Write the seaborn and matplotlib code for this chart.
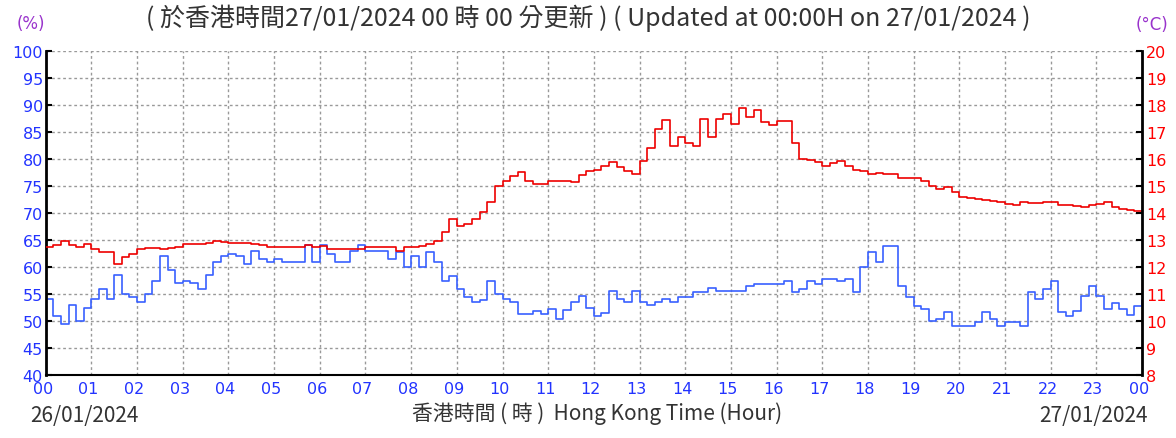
import numpy as np
import pandas as pd
import seaborn as sns
import matplotlib.pyplot as plt
from matplotlib.transforms import ScaledTranslation

# readings every 10 minutes from 00:00 26/01 to 00:00 27/01
hours = np.arange(0, 24 + 1 / 12, 1 / 6)

humidity = [
    54, 51, 49.5, 53, 50, 52.5,
    54, 56, 54, 58.5, 55, 54.5,
    53.5, 55, 57.5, 62, 59.5, 57,
    57.5, 57, 56, 58.5, 61, 62,
    62.5, 62, 60.5, 63, 61.5, 61,
    61.5, 61, 61, 61, 64, 61,
    64, 62.4, 61, 61, 63, 64,
    63, 63, 63, 61.5, 62.7, 60,
    62, 60, 62.7, 61, 57.5, 58.4,
    56, 54.5, 53.5, 53.8, 57.5, 55,
    54, 53.5, 51.3, 51.3, 51.9, 51.3,
    52.2, 50.4, 52, 53.5, 54.7, 52.5,
    51, 51.5, 55.5, 54, 53.5, 55.5,
    53.5, 53, 53.5, 54, 53.5, 54.5,
    54.5, 55.3, 55.3, 56.2, 55.6, 55.6,
    55.6, 55.5, 56.5, 56.8, 56.8, 56.8,
    56.8, 57.5, 55.3, 56, 57.5, 56.8,
    57.7, 57.7, 57.5, 57.7, 55.3, 60,
    62.7, 61, 63.8, 63.8, 56.5, 54.5,
    52.8, 52.2, 50, 50.4, 51.6, 49.1,
    49.1, 49.1, 49.8, 51.6, 50.4, 49.1,
    49.8, 49.8, 49.1, 55.3, 54, 56,
    57.5, 51.6, 51, 51.9, 54.7, 56.5,
    54.7, 52.2, 53.4, 52.2, 51.2, 52.8,
    53.8,
]

temperature = [
    12.73, 12.8, 12.98, 12.8, 12.73, 12.85,
    12.67, 12.54, 12.54, 12.1, 12.36, 12.5,
    12.67, 12.7, 12.7, 12.67, 12.7, 12.75,
    12.85, 12.85, 12.85, 12.9, 12.98, 12.91,
    12.9, 12.9, 12.9, 12.85, 12.8, 12.75,
    12.75, 12.75, 12.75, 12.75, 12.8, 12.75,
    12.77, 12.67, 12.67, 12.67, 12.67, 12.67,
    12.73, 12.73, 12.73, 12.73, 12.6, 12.73,
    12.73, 12.79, 12.85, 12.98, 13.3, 13.78,
    13.53, 13.6, 13.78, 14.05, 14.4, 15.0,
    15.2, 15.38, 15.53, 15.2, 15.07, 15.07,
    15.2, 15.2, 15.2, 15.14, 15.4, 15.56,
    15.6, 15.75, 15.88, 15.7, 15.57, 15.44,
    15.94, 16.4, 17.1, 17.45, 16.5, 16.8,
    16.6, 16.5, 17.5, 16.8, 17.5, 17.67,
    17.3, 17.88, 17.55, 17.8, 17.36, 17.25,
    17.42, 17.42, 16.6, 16.0, 15.95, 15.9,
    15.75, 15.85, 15.94, 15.75, 15.6, 15.55,
    15.45, 15.47, 15.44, 15.44, 15.28, 15.28,
    15.28, 15.2, 15.0, 14.89, 14.95, 14.77,
    14.6, 14.55, 14.52, 14.5, 14.45, 14.42,
    14.35, 14.3, 14.4, 14.38, 14.38, 14.4,
    14.4, 14.3, 14.3, 14.25, 14.21, 14.3,
    14.35, 14.4, 14.21, 14.15, 14.12, 14.09,
    14.09,
]

hour_labels = [f"{h % 24:02d}" for h in range(25)]
rh_ticks = list(range(40, 101, 5))
temp_ticks = list(range(8, 21))

title = "( 於香港時間27/01/2024 00 時 00 分更新 ) ( Updated at 00:00H on 27/01/2024 )"
x_title = "香港時間 ( 時 )  Hong Kong Time (Hour)"

sns.set_style("white")
plt.rcParams['font.family'] = ['DejaVu Sans']
cjk = ['Noto Sans CJK TC', 'DejaVu Sans']

df = pd.DataFrame({'hour': hours, 'rh': humidity, 'temp': temperature})

fig = plt.figure(figsize=(11.76, 4.39), dpi=100)
ax = fig.add_axes([0.0389, 0.1435, 0.9322, 0.738])

# relative humidity on the left axis
sns.lineplot(data=df, x='hour', y='rh', ax=ax, color='#3860FF', lw=1.2,
             drawstyle='steps-post')
ax.set_xlim(0, 24)
ax.set_ylim(40, 100)
ax.set_xticks(range(25))
ax.set_xticklabels(hour_labels)
ax.set_xticks(np.arange(0.5, 24, 1), minor=True)
ax.set_yticks(rh_ticks)
ax.set_xlabel('')
ax.set_ylabel('')
ax.grid(True, which='major', ls=(0, (2, 2)), color='#999999', lw=1)
ax.tick_params(axis='x', which='both', direction='in', length=4, width=1.5,
               color='black', labelcolor='#2233FF', labelsize=11.5, pad=4)
ax.tick_params(axis='y', direction='in', length=4, width=1.5,
               color='black', labelcolor='#2233FF', labelsize=11.5, pad=2)
# hour labels sit a little left of their ticks in the original
shift = ScaledTranslation(-3 / 100, 0, fig.dpi_scale_trans)
for lab in ax.get_xticklabels():
    lab.set_transform(lab.get_transform() + shift)
ax.spines['top'].set_visible(False)
ax.spines['right'].set_visible(False)
ax.spines['left'].set_linewidth(2)
ax.spines['bottom'].set_linewidth(1.5)
ax.spines['left'].set_color('black')
ax.spines['bottom'].set_color('black')

# temperature on the right axis
ax2 = ax.twinx()
sns.lineplot(data=df, x='hour', y='temp', ax=ax2, color='#EE0000', lw=1.2,
             drawstyle='steps-post')
ax2.set_ylim(8, 20)
ax2.set_yticks(temp_ticks)
ax2.set_ylabel('')
ax2.tick_params(axis='y', direction='in', length=4, width=1.5,
                color='black', labelcolor='#FF0000', labelsize=11.5, pad=3)
for side in ['top', 'left', 'bottom']:
    ax2.spines[side].set_visible(False)
ax2.spines['right'].set_linewidth(2)
ax2.spines['right'].set_color('black')

fig.text(0.5, 0.959, title, ha='center', va='center', fontsize=18,
         color='#333333', family=cjk)
fig.text(0.026, 0.945, '(%)', ha='center', va='center', fontsize=12,
         color='#9933CC')
fig.text(0.98, 0.943, '(°C)', ha='center', va='center', fontsize=12,
         color='#9933CC')
fig.text(0.508, 0.057, x_title, ha='center', va='center', fontsize=15,
         color='#333333', family=cjk)
fig.text(0.072, 0.052, '26/01/2024', ha='center', va='center', fontsize=15,
         color='#333333', family=cjk)
fig.text(0.930, 0.052, '27/01/2024', ha='center', va='center', fontsize=15,
         color='#333333', family=cjk)

plt.savefig('out.png', dpi=100)
